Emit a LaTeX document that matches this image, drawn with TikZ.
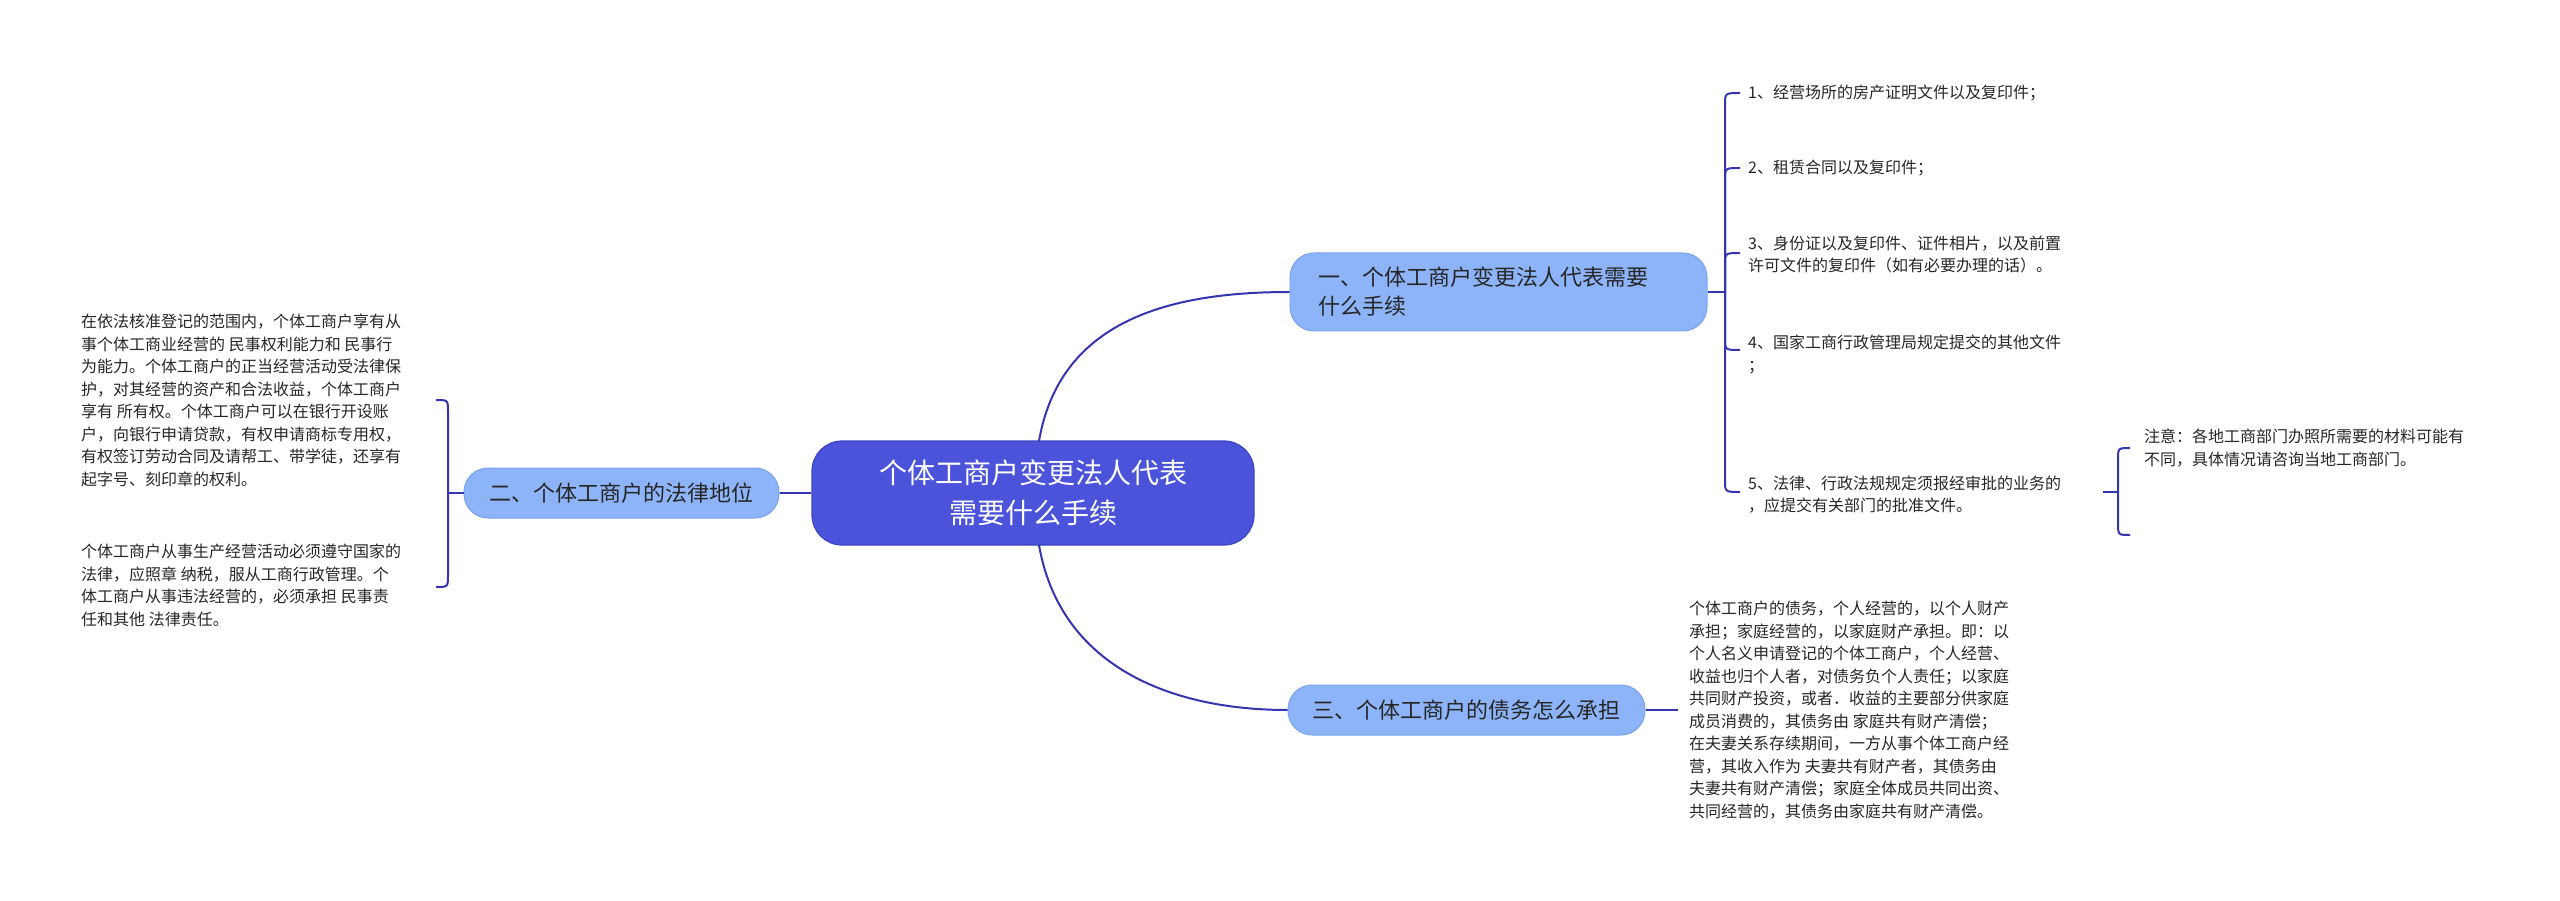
\documentclass[tikz,border=0pt]{standalone}
\usepackage{fontspec}
\setmainfont{Noto Sans CJK SC}
\begin{document}
\begin{tikzpicture}[x=1pt,y=1pt,
  line/.style={draw=lineblue,line width=2pt},
  centerbox/.style={rounded corners=30pt,fill=centerblue,draw=centerborder,line width=1.2pt,text=white,font=\fontsize{28}{40}\selectfont,align=center,minimum width=442pt,minimum height=104pt,inner sep=0pt},
  branchbox/.style={rounded corners=24pt,fill=branchblue,draw=branchborder,line width=1pt,text=black!85,font=\fontsize{22}{29}\selectfont,align=left,inner sep=0pt},
  small/.style={font=\fontsize{16}{22.5}\selectfont,align=left,inner sep=0pt,text=black!85}]
\definecolor{lineblue}{HTML}{3535B0}
\definecolor{centerblue}{HTML}{4B53DB}
\definecolor{centerborder}{HTML}{3D44C2}
\definecolor{branchblue}{HTML}{8DB4F8}
\definecolor{branchborder}{HTML}{7BA3EE}
\useasboundingbox (0,0) rectangle (2560,-901);

\node[centerbox] (c) at (1033,-493) {个体工商户变更法人代表\\需要什么手续};

\node[branchbox,minimum width=417pt,minimum height=78pt,text width=360pt] (b1) at (1498.5,-292) {一、个体工商户变更法人代表需要\\什么手续};
\node[branchbox,minimum width=315pt,minimum height=50pt,align=center] (b2) at (621.5,-493) {二、个体工商户的法律地位};
\node[branchbox,minimum width=357pt,minimum height=50pt,align=center] (b3) at (1466.5,-710) {三、个体工商户的债务怎么承担};

% center connectors
\coordinate (cs1) at (1039,-441);
\coordinate (cs3) at (1039,-545);
\draw[line] (cs1) .. controls (1060,-320) and (1170,-292) .. (b1.west);
\draw[line] (cs3) .. controls (1060,-666) and (1170,-710) .. (b3.west);
\draw[line] (c.west) -- (b2.east);

% branch 1 items
\node[small,anchor=west] (i1) at (1748,-93) {1、经营场所的房产证明文件以及复印件；};
\node[small,anchor=west] (i2) at (1748,-168) {2、租赁合同以及复印件；};
\node[small,anchor=west] (i3) at (1748,-254.5) {3、身份证以及复印件、证件相片，以及前置\\许可文件的复印件（如有必要办理的话）。};
\node[small,anchor=west] (i4) at (1748,-354.5) {4、国家工商行政管理局规定提交的其他文件\\；};
\node[small,anchor=west] (i5) at (1748,-494.5) {5、法律、行政法规规定须报经审批的业务的\\，应提交有关部门的批准文件。};
\coordinate (h1) at (1725,-292);
\draw[line] (b1.east) -- (h1);
\draw[line] (h1) -- (1725,-105) .. controls (1725,-93) .. (1740,-93);
\draw[line] (h1) -- (1725,-180) .. controls (1725,-168) .. (1740,-168);
\draw[line] (h1) -- (1725,-265) .. controls (1725,-253) .. (1740,-253);
\draw[line] (h1) -- (1725,-338) .. controls (1725,-350) .. (1740,-350);
\draw[line] (h1) -- (1725,-480) .. controls (1725,-492) .. (1740,-492);

% note
\node[small,anchor=north west] (n1) at (2144,-429) {注意：各地工商部门办照所需要的材料可能有\\不同，具体情况请咨询当地工商部门。};
\coordinate (h5) at (2118,-492);
\coordinate (i5r) at (2103,-492);
\draw[line] (i5r) -- (h5);
\draw[line] (h5) -- (2118,-460) .. controls (2118,-448) .. (2130,-448);
\draw[line] (h5) -- (2118,-523) .. controls (2118,-535) .. (2130,-535);

% branch 2 paragraphs
\node[small,anchor=north west] (p1) at (81,-314) {在依法核准登记的范围内，个体工商户享有从\\事个体工商业经营的 民事权利能力和 民事行\\为能力。个体工商户的正当经营活动受法律保\\护，对其经营的资产和合法收益，个体工商户\\享有 所有权。个体工商户可以在银行开设账\\户，向银行申请贷款，有权申请商标专用权，\\有权签订劳动合同及请帮工、带学徒，还享有\\起字号、刻印章的权利。};
\node[small,anchor=north west] (p2) at (81,-544) {个体工商户从事生产经营活动必须遵守国家的\\法律，应照章 纳税，服从工商行政管理。个\\体工商户从事违法经营的，必须承担 民事责\\任和其他 法律责任。};
\coordinate (h2) at (448,-493);
\draw[line] (b2.west) -- (h2);
\draw[line] (h2) -- (448,-412) .. controls (448,-400) .. (436,-400);
\draw[line] (h2) -- (448,-575) .. controls (448,-587) .. (436,-587);

% branch 3 text
\node[small,anchor=north west] (t3) at (1689,-601) {个体工商户的债务，个人经营的，以个人财产\\承担；家庭经营的，以家庭财产承担。即：以\\个人名义申请登记的个体工商户，个人经营、\\收益也归个人者，对债务负个人责任；以家庭\\共同财产投资，或者．收益的主要部分供家庭\\成员消费的，其债务由 家庭共有财产清偿；\\在夫妻关系存续期间，一方从事个体工商户经\\营，其收入作为 夫妻共有财产者，其债务由\\夫妻共有财产清偿；家庭全体成员共同出资、\\共同经营的，其债务由家庭共有财产清偿。};
\coordinate (t3w) at (1678,-710);
\draw[line] (b3.east) -- (t3w);
\end{tikzpicture}
\end{document}
